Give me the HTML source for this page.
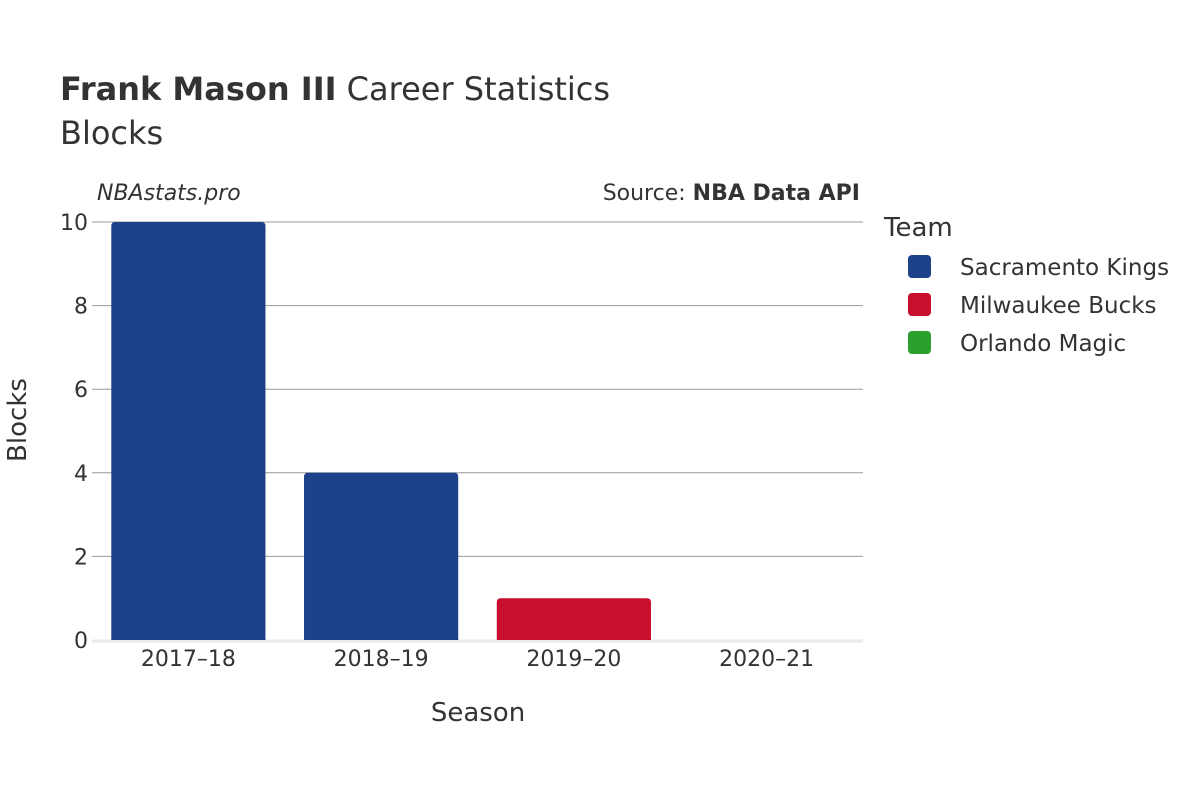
<!DOCTYPE html>
<html><head><meta charset="utf-8"><style>
body{margin:0;background:#fff;}
svg{font-family:"DejaVu Sans","Liberation Sans",sans-serif;}
</style></head><body>
<svg id="chart" width="1200" height="800" xmlns="http://www.w3.org/2000/svg">
<rect width="1200" height="800" fill="#fff"/>
<text x="60" y="100" font-size="32" fill="#333"><tspan font-weight="bold">Frank Mason III</tspan> Career Statistics</text>
<text x="60" y="144" font-size="32" fill="#333">Blocks</text>
<text x="97" y="200" font-size="22" font-style="italic" fill="#333">NBAstats.pro</text>
<text x="860" y="200" font-size="22" fill="#333" text-anchor="end">Source: <tspan font-weight="bold">NBA Data API</tspan></text>
<g id="grid"></g>
<g id="bars"></g>
<g id="xticks"></g>
<text x="478" y="721" font-size="26" fill="#333" text-anchor="middle">Season</text>
<text transform="translate(26,420) rotate(-90)" font-size="26" fill="#333" text-anchor="middle">Blocks</text>
<g>
<text x="884" y="236" font-size="26" fill="#333">Team</text>
<g><rect x="908" y="255" width="23" height="23" rx="4" fill="#1d428a"/><text x="960" y="275" font-size="23" fill="#333">Sacramento Kings</text></g>
<g><rect x="908" y="293" width="23" height="23" rx="4" fill="#c8102e"/><text x="960" y="313" font-size="23" fill="#333">Milwaukee Bucks</text></g>
<g><rect x="908" y="331" width="23" height="23" rx="4" fill="#2ca02c"/><text x="960" y="351" font-size="23" fill="#333">Orlando Magic</text></g>
</g>
</svg>
<script>
const seasons=["2017–18","2018–19","2019–20","2020–21"];
const blocks=[10,4,1,0];
const teamColors=["#1d428a","#1d428a","#c8102e","#2ca02c"];
const yTicks=[0,2,4,6,8,10];
const NS="http://www.w3.org/2000/svg";
const x0=92,x1=863,y0=640,y1=222,yMax=10;
const band=(x1-x0)/seasons.length;
const xC=i=>x0+band*(i+0.5);
const yS=v=>y0-(v/yMax)*(y0-y1);
function mk(t,a,p){const e=document.createElementNS(NS,t);for(const k in a)e.setAttribute(k,a[k]);p.appendChild(e);return e;}
const grid=document.getElementById('grid');
yTicks.forEach(v=>{
 if(v>0){const l=mk('line',{x1:x0,x2:x1,y1:yS(v),y2:yS(v),stroke:'#999','stroke-width':1},grid);
 
 }
 const t=mk('text',{x:x0-4,y:yS(v)+8,'font-size':22,fill:'#333','text-anchor':'end'},grid);
 t.textContent=v;
 
 
});
const bars=document.getElementById('bars');
const bw=band*0.8;
blocks.forEach((v,i)=>{
 const h=y0-yS(v);
 if(h>0){const r=mk('path',{fill:teamColors[i]},bars);
 const x=xC(i)-bw/2,y=yS(v),rr=Math.min(4,h);
 r.setAttribute('d',`M${x},${y0}V${y+rr}Q${x},${y} ${x+rr},${y}H${x+bw-rr}Q${x+bw},${y} ${x+bw},${y+rr}V${y0}Z`);
 
 }
});
const zl=mk('line',{x1:x0,x2:x1,y1:y0+1,y2:y0+1,stroke:'#e8e8ee','stroke-width':3},grid);


const xt=document.getElementById('xticks');
seasons.forEach((s,i)=>{
 const t=mk('text',{x:xC(i),y:666,'font-size':22,fill:'#333','text-anchor':'middle'},xt);
 t.textContent=s;
 
 
});
</script>
</body></html>
